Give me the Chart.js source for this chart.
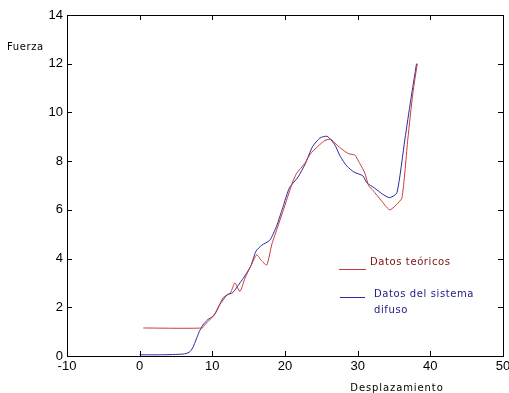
<!DOCTYPE html>
<html>
<head>
<meta charset="utf-8">
<script src="https://cdn.jsdelivr.net/npm/chart.js@4/dist/chart.umd.min.js"></script>
<style>
  html, body { margin: 0; padding: 0; background: #fff; }
  #wrap { width: 509px; height: 393px; position: relative; }
</style>
</head>
<body>
<div id="wrap"><canvas id="grafico"></canvas></div>
<script>
// Datos
const teoricosX = [0.5, 8.6, 9.0, 9.6, 10.5, 11.5, 12.5, 13.1, 13.8, 14.5, 15.3, 16.1, 16.8, 17.5, 18.2, 19, 20, 21, 21.6, 22.7, 23.5, 24.5, 25.5, 26.3, 27, 28, 28.8, 29.6, 30.3, 31, 31.5, 32.1, 33.2, 34.4, 35.3, 36.1, 36.9, 37.6, 38.2];
const teoricosY = [1.15, 1.15, 1.3, 1.47, 1.8, 2.4, 2.6, 3.0, 2.65, 3.2, 3.7, 4.15, 3.9, 3.74, 4.6, 5.3, 6.2, 7.1, 7.5, 7.9, 8.3, 8.6, 8.85, 8.9, 8.7, 8.45, 8.3, 8.25, 7.9, 7.5, 7.0, 6.8, 6.4, 6.0, 6.2, 6.5, 8.9, 10.8, 12.0];

const difusoX = [0, 3, 6, 6.8, 7.3, 7.8, 8.2, 8.7, 9.4, 10.2, 11, 12, 12.8, 13.8, 14.5, 15.3, 16, 16.8, 17.9, 18.8, 19.7, 20.6, 21.8, 22.8, 23.8, 24.8, 25.8, 26.8, 27.6, 28.5, 29.5, 30.7, 31.3, 32.3, 33.4, 34.4, 35.4, 36.5, 37.3, 38.1];
const difusoY = [0.05, 0.05, 0.08, 0.15, 0.33, 0.7, 1.0, 1.27, 1.5, 1.65, 2.1, 2.5, 2.6, 3.0, 3.3, 3.7, 4.3, 4.55, 4.75, 5.3, 6.1, 6.9, 7.35, 7.9, 8.6, 8.95, 9.02, 8.7, 8.2, 7.8, 7.55, 7.4, 7.1, 6.9, 6.65, 6.5, 6.7, 8.9, 10.5, 12.0];

const ticksX = [-10, 0, 10, 20, 30, 40, 50];
const ticksY = [0, 2, 4, 6, 8, 10, 12, 14];

const etiquetas = ['Datos teóricos', 'Datos del sistema difuso'];

function puntos(xs, ys) {
    return xs.map((x, i) => ({ x: x, y: ys[i] }));
}

// Marco y marcas hacia dentro, estilo matlab
const marco = {
    id: 'marco',
    afterDraw(chart) {
        const ctx = chart.ctx;
        const a = chart.chartArea;
        const sx = chart.scales.x;
        const sy = chart.scales.y;
        ctx.save();
        ctx.strokeStyle = '#000';
        ctx.lineWidth = 1;
        ctx.strokeRect(Math.round(a.left) + 0.5, Math.round(a.top) + 0.5, Math.round(a.right - a.left), Math.round(a.bottom - a.top));
        ctx.beginPath();
        ticksX.forEach(v => {
            const px = Math.round(sx.getPixelForValue(v)) + 0.5;
            ctx.moveTo(px, a.bottom); ctx.lineTo(px, a.bottom - 5);
            ctx.moveTo(px, a.top); ctx.lineTo(px, a.top + 5);
        });
        ticksY.forEach(v => {
            const py = Math.round(sy.getPixelForValue(v)) + 0.5;
            ctx.moveTo(a.left, py); ctx.lineTo(a.left + 5, py);
            ctx.moveTo(a.right, py); ctx.lineTo(a.right - 5, py);
        });
        ctx.stroke();

        // titulos de ejes
        ctx.fillStyle = '#000';
        ctx.font = '10px "DejaVu Sans"';
        ctx.letterSpacing = '0.6px';
        ctx.textBaseline = 'middle';
        ctx.textAlign = 'left';
        ctx.fillText('Fuerza', 7, 47);
        ctx.letterSpacing = '0.9px';
        ctx.textAlign = 'center';
        ctx.fillText('Desplazamiento', 397, 388);

        // leyenda
        const ds = chart.data.datasets;
        ctx.letterSpacing = '0.6px';
        ctx.textAlign = 'left';
        ctx.beginPath();
        ctx.strokeStyle = ds[0].borderColor;
        ctx.moveTo(339, 269.5); ctx.lineTo(366, 269.5);
        ctx.stroke();
        ctx.fillStyle = '#7a1010';
        ctx.fillText(ds[0].label, 370, 262);
        ctx.beginPath();
        ctx.strokeStyle = ds[1].borderColor;
        ctx.moveTo(340, 297.5); ctx.lineTo(365, 297.5);
        ctx.stroke();
        ctx.fillStyle = '#1a1a80';
        const partes = ds[1].label.split(' ');
        ctx.fillText(partes.slice(0, 3).join(' '), 374, 294);
        ctx.fillText(partes.slice(3).join(' '), 374, 310);
        ctx.restore();
    }
};

const ctx = document.getElementById('grafico').getContext('2d');
new Chart(ctx, {
    type: 'line',
    data: {
        datasets: [{
            label: etiquetas[0],
            data: puntos(teoricosX, teoricosY),
            borderColor: '#c83a3a',
            borderWidth: 1,
            pointRadius: 0,
            tension: 0.2,
            fill: false
        }, {
            label: etiquetas[1],
            data: puntos(difusoX, difusoY),
            borderColor: '#2a2aa0',
            borderWidth: 1,
            pointRadius: 0,
            tension: 0.2,
            fill: false
        }]
    },
    options: {
        responsive: true,
        maintainAspectRatio: false,
        animation: false,
        layout: { padding: { top: 15, right: 6, left: 0, bottom: 0 } },
        plugins: { legend: { display: false }, tooltip: { enabled: false } },
        scales: {
            x: {
                type: 'linear',
                min: -10,
                max: 50,
                afterBuildTicks: s => { s.ticks = ticksX.map(v => ({ value: v })); },
                afterFit: s => { s.height = 37; s.paddingLeft = 0; s.paddingRight = 0; },
                grid: { display: false, drawTicks: false },
                border: { display: false },
                ticks: { color: '#000', padding: 3, maxRotation: 0, font: { family: 'Liberation Sans', size: 13 } }
            },
            y: {
                min: 0,
                max: 14,
                afterBuildTicks: s => { s.ticks = ticksY.map(v => ({ value: v })); },
                afterFit: s => { s.width = 67; s.paddingTop = 0; s.paddingBottom = 0; },
                grid: { display: false, drawTicks: false },
                border: { display: false },
                ticks: { color: '#000', padding: 4, font: { family: 'Liberation Sans', size: 13 } }
            }
        }
    },
    plugins: [marco]
});
</script>
</body>
</html>
